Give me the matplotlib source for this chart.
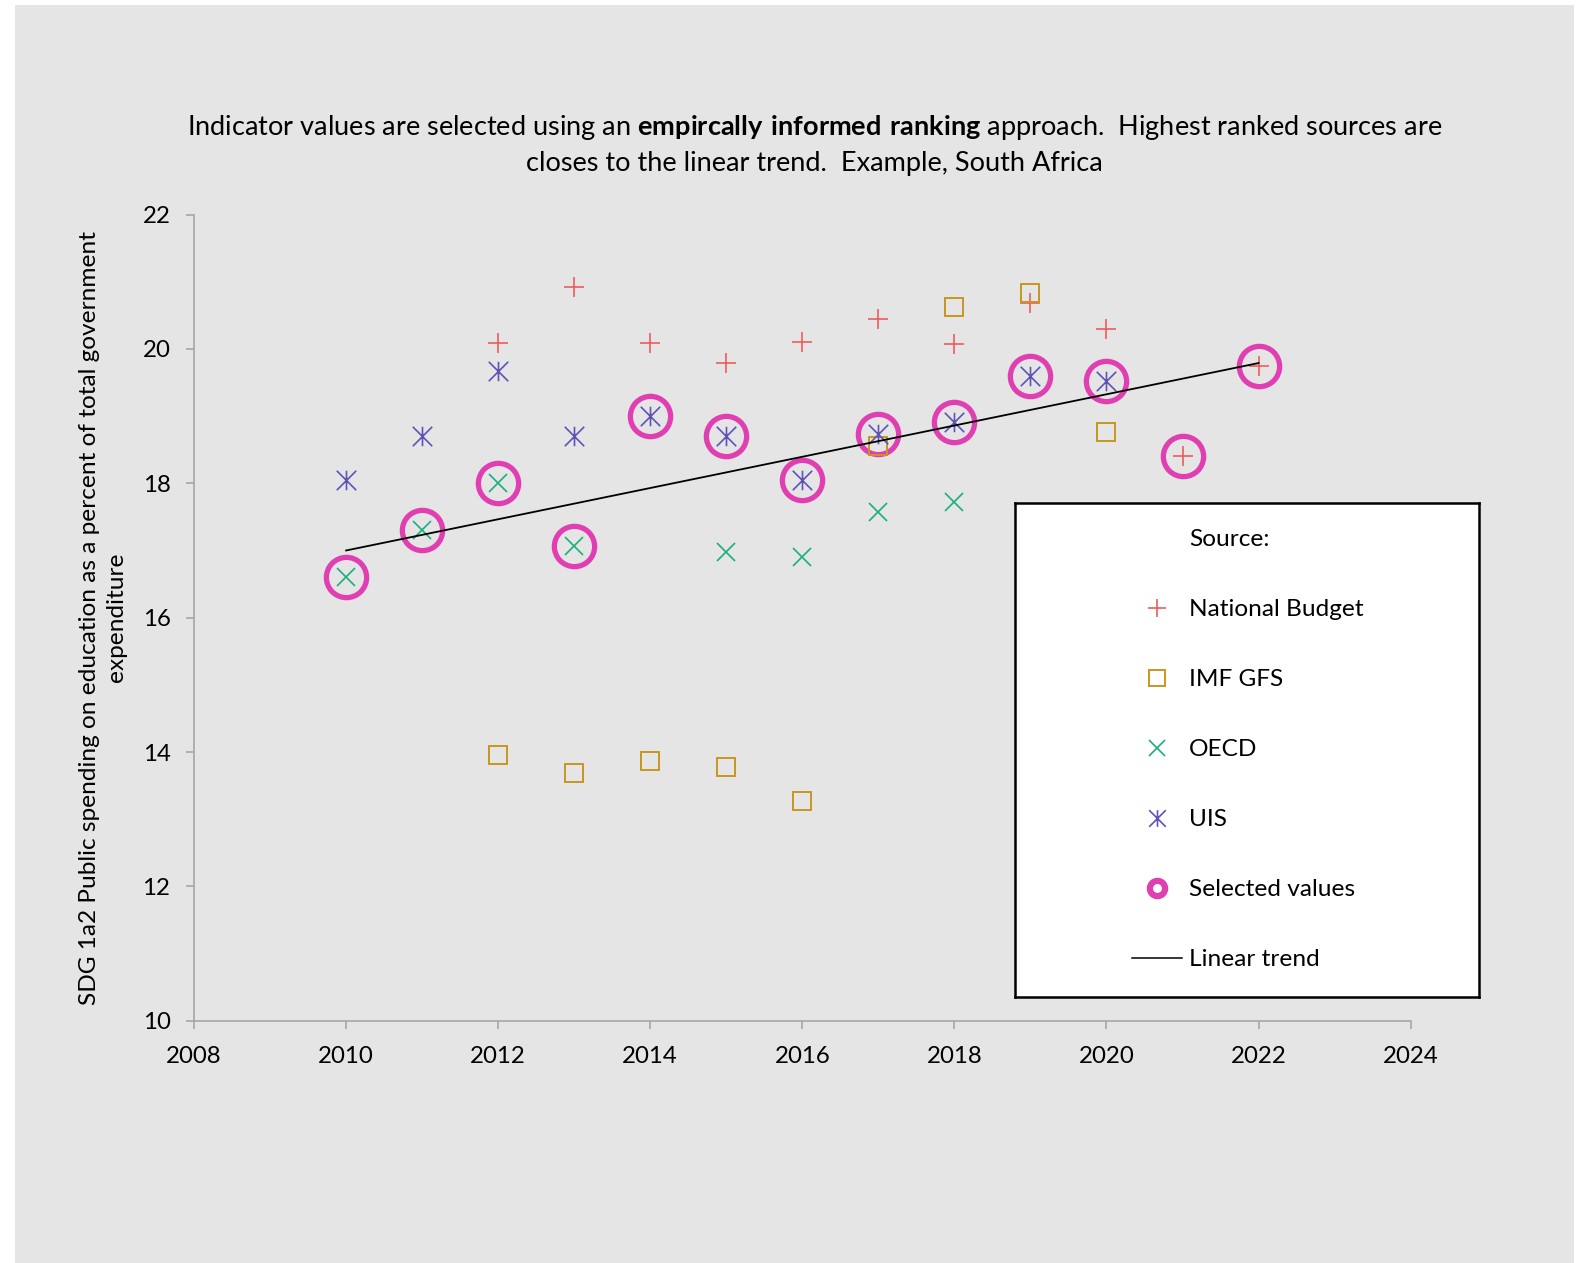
import numpy as np
import matplotlib.pyplot as plt
from matplotlib.path import Path
from matplotlib.lines import Line2D
from matplotlib.patches import Rectangle

plt.rcParams['font.family'] = ['Lato', 'DejaVu Sans']
plt.rcParams['mathtext.fontset'] = 'custom'
plt.rcParams['mathtext.rm'] = 'Lato'
plt.rcParams['mathtext.bf'] = 'Lato:bold'

# data
budget_years = [2012, 2013, 2014, 2015, 2016, 2017, 2018, 2019, 2020, 2021, 2022]
budget = [20.09, 20.92, 20.09, 19.79, 20.11, 20.45, 20.08, 20.69, 20.30, 18.41, 19.75]

imf_years = [2012, 2013, 2014, 2015, 2016, 2017, 2018, 2019, 2020]
imf = [13.95, 13.69, 13.87, 13.78, 13.27, 18.55, 20.63, 20.84, 18.76]

oecd_years = [2010, 2011, 2012, 2013, 2015, 2016, 2017, 2018]
oecd = [16.61, 17.31, 18.00, 17.06, 16.98, 16.91, 17.57, 17.72]

uis_years = [2010, 2011, 2012, 2013, 2014, 2015, 2016, 2017, 2018, 2019, 2020]
uis = [18.05, 18.70, 19.67, 18.70, 19.00, 18.70, 18.05, 18.73, 18.91, 19.60, 19.52]

sel_years = [2010, 2011, 2012, 2013, 2014, 2015, 2016, 2017, 2018, 2019, 2020, 2021, 2022]
selected = [16.61, 17.31, 18.00, 17.06, 19.00, 18.70, 18.05, 18.73, 18.91, 19.60, 19.52, 18.41, 19.75]

trend_years = [2010, 2022]
trend = [17.0, 19.79]

c_budget = '#ef5b5b'
c_imf = '#c9961f'
c_oecd = '#19b07f'
c_uis = '#5d54b8'
c_sel = '#e03fb2'
grey = '#a6a6a6'

# excel style asterisk: vertical line plus an x
star = Path([(0, -1), (0, 1), (-1, -1), (1, 1), (-1, 1), (1, -1)],
            [Path.MOVETO, Path.LINETO, Path.MOVETO, Path.LINETO, Path.MOVETO, Path.LINETO])

fig = plt.figure(figsize=(15.8, 12.63), dpi=100)
fig.patch.set_facecolor('white')
fig.patches.append(Rectangle((15 / 1580, 0), 1559 / 1580, 1 - 5 / 1263,
                             transform=fig.transFigure, facecolor='#e5e5e5',
                             edgecolor='none', zorder=-10))

ax = fig.add_axes([0.1228, 0.1918, 0.77, 0.6383])
ax.set_facecolor('none')

ax.plot(sel_years, selected, 'o', ms=29, mfc='none', mec=c_sel, mew=3.8, zorder=2)
ax.plot(budget_years, budget, '+', ms=14, color=c_budget, mew=1.2, zorder=3)
ax.plot(imf_years, imf, 's', ms=13, mfc='none', mec=c_imf, mew=1.4, zorder=3)
ax.plot(oecd_years, oecd, 'x', ms=13.5, color=c_oecd, mew=1.2, zorder=3)
ax.plot(uis_years, uis, marker=star, ls='none', ms=14, color=c_uis, mew=1.2, zorder=3)
ax.plot(trend_years, trend, color='black', lw=1.3, zorder=4)

ax.set_xlim(2008, 2024)
ax.set_ylim(10, 22)
ax.set_xticks(np.arange(2008, 2025, 2))
ax.set_yticks(np.arange(10, 23, 2))
for s in ['top', 'right']:
    ax.spines[s].set_visible(False)
for s in ['left', 'bottom']:
    ax.spines[s].set_color(grey)
    ax.spines[s].set_linewidth(1.2)
ax.tick_params(direction='out', length=6, width=1.2, color=grey,
               labelsize=17.3, pad=11)
ax.tick_params(axis='x', pad=12)

fig.text(103 / 1580, 1 - 617.7 / 1263,
         'SDG 1a2 Public spending on education as a percent of total government\nexpenditure',
         rotation=90, ha='center', va='center', multialignment='center',
         fontsize=17.6, linespacing=1.38)

fig.text(0.5155, 1 - 128 / 1263,
         r'Indicator values are selected using an $\mathbf{empircally\ informed\ ranking}$ approach.  Highest ranked sources are',
         ha='center', va='center', fontsize=19.5)
fig.text(0.5155, 1 - 163 / 1263,
         'closes to the linear trend.  Example, South Africa',
         ha='center', va='center', fontsize=19.5)

# legend box
lax = fig.add_axes([0.6422, 0.2109, 0.294, 0.391])
lax.set_facecolor('white')
lax.set_xticks([])
lax.set_yticks([])
for s in lax.spines.values():
    s.set_color('black')
    s.set_linewidth(1.8)

handles = [
    Line2D([], [], ls='none'),
    Line2D([], [], marker='+', ls='none', ms=13, color=c_budget, mew=1.2),
    Line2D([], [], marker='s', ls='none', ms=12, mfc='none', mec=c_imf, mew=1.4),
    Line2D([], [], marker='x', ls='none', ms=12, color=c_oecd, mew=1.2),
    Line2D([], [], marker=star, ls='none', ms=12, color=c_uis, mew=1.2),
    Line2D([], [], marker='o', ls='none', ms=11, mfc='none', mec=c_sel, mew=4.5),
    Line2D([], [], color='black', lw=1.1),
]
labels = ['Source:', 'National Budget', 'IMF GFS', 'OECD', 'UIS', 'Selected values', 'Linear trend']
lax.legend(handles, labels, loc='center left', bbox_to_anchor=(0.2517, 0.5),
           frameon=False, fontsize=17.6, handlelength=2.07, handletextpad=0.28,
           labelspacing=2.0, borderpad=0, borderaxespad=0)

fig.savefig('out.png', dpi=100)
